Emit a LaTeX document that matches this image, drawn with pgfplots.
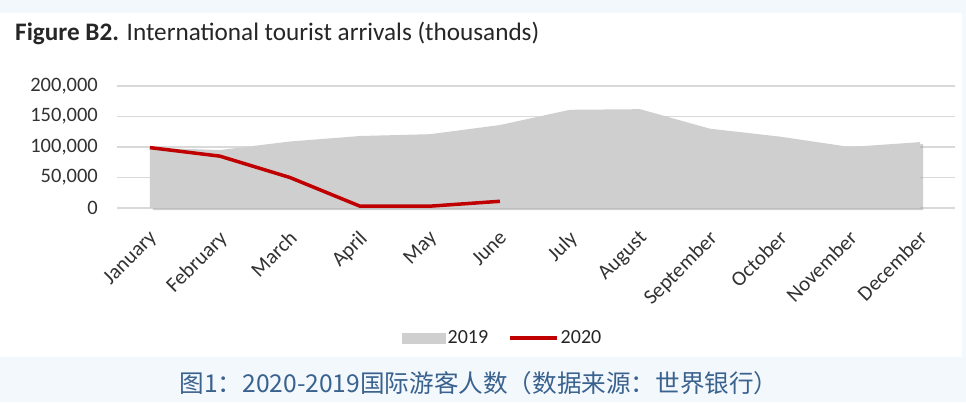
\documentclass[border=0pt]{standalone}
\usepackage{fontspec}
\setmainfont{Carlito}
\newfontfamily\cjk{Noto Sans CJK SC}
\usepackage{pgfplots}
\pgfplotsset{compat=1.18}
\definecolor{bgblue}{RGB}{243,248,252}
\definecolor{areagray}{RGB}{208,207,208}
\definecolor{shadowgray}{RGB}{160,160,160}
\definecolor{redline}{RGB}{192,0,0}
\definecolor{gridgray}{RGB}{217,217,217}
\definecolor{captionblue}{RGB}{58,98,142}
\definecolor{txt}{RGB}{50,50,50}
\begin{document}
\begin{tikzpicture}[x=1pt,y=1pt]
\useasboundingbox (0,0) rectangle (966,402);
\fill[bgblue] (0,0) rectangle (966,402);
\fill[white] (0,45) rectangle (962,389);
\node[anchor=base west, inner sep=0pt, font=\fontsize{25.2}{28}\selectfont, text=black!85] at (15,361)
  {\textbf{Figure B2.} International tourist arrivals (thousands)};
\begin{axis}[
  at={(117pt,194pt)}, anchor=south west,
  scale only axis, width=838pt, height=122pt,
  xmin=-0.47, xmax=11.5, ymin=0, ymax=200000,
  axis line style={draw=none},
  major tick length=0pt,
  ymajorgrids, grid style={gridgray, line width=1.2pt},
  xtick={0,1,2,3,4,5,6,7,8,9,10,11},
  xticklabels={January,February,March,April,May,June,July,August,September,October,November,December},
  xticklabel style={xshift=-2pt, yshift=-21pt, rotate=45, anchor=north east, inner sep=0pt,
    font=\fontsize{21}{24}\selectfont, text=txt},
  ytick={0,50000,100000,150000,200000},
  scaled y ticks=false,
  /pgf/number format/assume math mode=true,
  yticklabel style={/pgf/number format/.cd, fixed, 1000 sep={,}, /tikz/.cd,
    anchor=east, inner sep=0pt, xshift=-19pt, font=\fontsize{20.5}{24}\selectfont, text=txt},
  legend style={at={(0.46,-1.066)}, anchor=center, draw=none, fill=none,
    legend columns=2, font=\fontsize{20}{24}\selectfont, text=black!85,
    /tikz/every even column/.append style={column sep=18pt},
    nodes={inner sep=2pt}},
  clip=false,
]
\addplot[fill=shadowgray, draw=none, opacity=0.5, forget plot, xshift=3pt, yshift=-2pt] coordinates {
(0,99000) (1,95000) (2,109000) (3,118000) (4,121000) (5,136000)
(6,161000) (7,162000) (8,130000) (9,117000) (10,100000) (11,108000)} \closedcycle;
\addplot[fill=areagray, draw=none,
  legend image code/.code={\fill[areagray] (0pt,-5.5pt) rectangle (44pt,5.5pt);}] coordinates {
(0,99000) (1,95000) (2,109000) (3,118000) (4,121000) (5,136000)
(6,161000) (7,162000) (8,130000) (9,117000) (10,100000) (11,108000)} \closedcycle;
\addlegendentry{2019}
\addplot[redline, line width=3.5pt,
  legend image code/.code={\draw[redline, line width=3.5pt] (0pt,0pt) -- (47pt,0pt);}] coordinates {
(0,99000) (1,85000) (2,50000) (3,3000) (4,3000) (5,11000)};
\addlegendentry{2020}
\end{axis}
\node[anchor=center, inner sep=0pt, font=\cjk\fontsize{24.6}{28}\selectfont, text=captionblue] at (479,19)
  {图1：2020-2019国际游客人数（数据来源：世界银行）};
\end{tikzpicture}
\end{document}
